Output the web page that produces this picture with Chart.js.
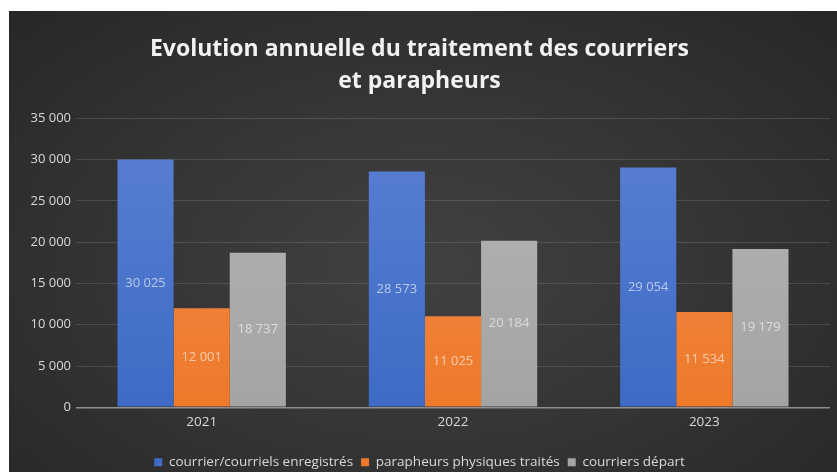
<!DOCTYPE html>
<html lang="fr">
<head>
<meta charset="utf-8">
<title>Evolution annuelle du traitement des courriers et parapheurs</title>
<script src="https://cdn.jsdelivr.net/npm/chart.js@4.4.1/dist/chart.umd.min.js"></script>
<style>
    html, body { margin: 0; padding: 0; background: #ffffff; }
    #wrap {
        position: absolute;
        left: 9px;
        top: 11px;
        width: 828px;
        height: 461px;
        background: radial-gradient(ellipse at 50% 55%, #414141 0%, #363636 45%, #272727 100%);
    }
</style>
</head>
<body>
<div id="wrap"><canvas id="chart"></canvas></div>
<script>
const annees = ["2021", "2022", "2023"];
const courriersEnregistres = [30025, 28573, 29054];
const parapheursTraites = [12001, 11025, 11534];
const courriersDepart = [18737, 20184, 19179];
const titre = ["Evolution annuelle du traitement des courriers", "et parapheurs"];

function fmt(v) {
    return String(v).replace(/\B(?=(\d{3})+(?!\d))/g, " ");
}

// dégradé vertical léger sur les barres
function degrade(haut, bas) {
    return (ctx) => {
        const area = ctx.chart.chartArea;
        if (!area) return bas;
        const g = ctx.chart.ctx.createLinearGradient(0, area.top, 0, area.bottom);
        g.addColorStop(0, haut);
        g.addColorStop(1, bas);
        return g;
    };
}

// étiquettes de valeur au milieu de chaque barre
const etiquettes = {
    id: "etiquettes",
    afterDatasetsDraw(chart) {
        const ctx = chart.ctx;
        ctx.save();
        ctx.font = "13px 'Open Sans', sans-serif";
        ctx.textAlign = "center";
        ctx.textBaseline = "middle";
        ctx.fillStyle = "rgba(255,255,255,0.6)";
        chart.data.datasets.forEach((ds, i) => {
            chart.getDatasetMeta(i).data.forEach((bar, j) => {
                ctx.fillText(fmt(ds.data[j]), bar.x, (bar.y + bar.base) / 2);
            });
        });
        ctx.restore();
    }
};

const ctx = document.getElementById("chart").getContext("2d");
new Chart(ctx, {
    type: "bar",
    data: {
        labels: annees,
        datasets: [
            {
                label: "courrier/courriels enregistrés",
                data: courriersEnregistres,
                backgroundColor: degrade("#5a80d2", "#3e6bc6")
            },
            {
                label: "parapheurs physiques traités",
                data: parapheursTraites,
                backgroundColor: degrade("#f28c4a", "#ee7a2b")
            },
            {
                label: "courriers départ",
                data: courriersDepart,
                backgroundColor: degrade("#b5b5b5", "#a4a4a4")
            }
        ]
    },
    options: {
        responsive: true,
        maintainAspectRatio: false,
        animation: false,
        layout: { padding: { left: 0, right: 7, top: 0, bottom: -7 } },
        datasets: {
            bar: { categoryPercentage: 0.67, barPercentage: 1.0 }
        },
        plugins: {
            title: {
                display: true,
                text: titre,
                color: "#f2f2f2",
                font: { family: "'Open Sans', sans-serif", size: 23, weight: "bold", lineHeight: 1.4 },
                padding: { top: 22, bottom: 21 }
            },
            legend: {
                position: "bottom",
                labels: {
                    color: "#d9d9d9",
                    boxWidth: 8,
                    boxHeight: 8,
                    padding: 8,
                    font: { family: "'Open Sans', sans-serif", size: 13.5 }
                }
            },
            tooltip: { enabled: false }
        },
        scales: {
            x: {
                afterFit(axis) { axis.height += 10; },
                grid: { display: false, drawTicks: false },
                border: { display: false },
                ticks: {
                    color: "#d9d9d9",
                    padding: 7,
                    font: { family: "'Open Sans', sans-serif", size: 13.5 }
                }
            },
            y: {
                min: 0,
                max: 35000,
                afterFit(axis) { axis.width = 67; },
                grid: {
                    drawTicks: false,
                    color: (c) => c.tick && c.tick.value === 0 ? "#8f8f8f" : "rgba(255,255,255,0.13)",
                    lineWidth: (c) => c.tick && c.tick.value === 0 ? 1.5 : 1
                },
                border: { display: false },
                ticks: {
                    stepSize: 5000,
                    color: "#d9d9d9",
                    padding: 5,
                    font: { family: "'Open Sans', sans-serif", size: 13 },
                    callback: (v) => fmt(v)
                }
            }
        }
    },
    plugins: [etiquettes]
});
</script>
</body>
</html>
